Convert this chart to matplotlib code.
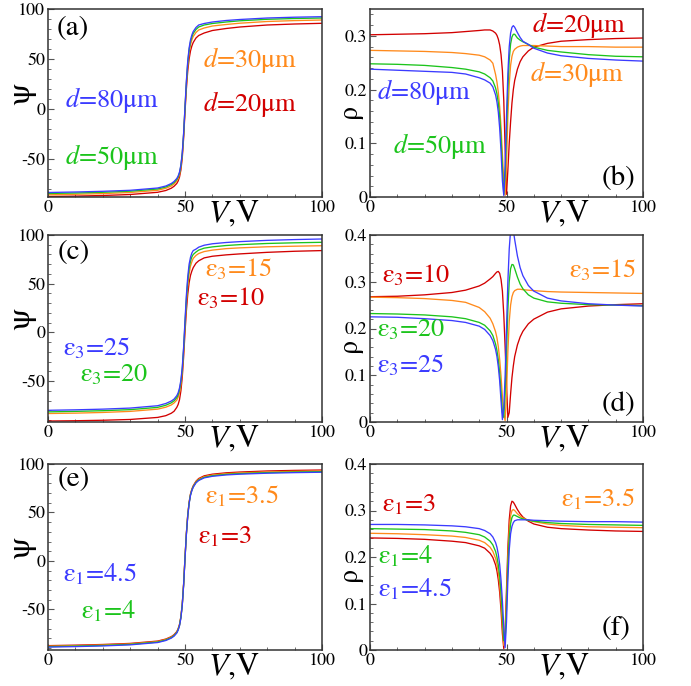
import matplotlib
matplotlib.use("Agg")
import matplotlib.pyplot as plt
from matplotlib.ticker import MultipleLocator

plt.rcParams['font.family'] = ['STIXGeneral', 'DejaVu Serif']
plt.rcParams['mathtext.fontset'] = 'stix'
plt.rcParams['axes.unicode_minus'] = False

BLUE = '#3b3bff'
GREEN = '#1cc41c'
ORANGE = '#ff8a1c'
RED = '#d20000'

# ---------------- data ----------------
V_psi = [0, 10, 20, 30, 40, 43, 45, 46, 47, 47.5, 48, 48.5, 49, 49.5, 50, 50.5,
         51, 51.5, 52, 52.5, 53, 54, 55, 57, 60, 65, 70, 80, 90, 100]
V_rho = [0, 10, 20, 30, 35, 40, 42, 44, 45, 46, 46.5, 47, 47.5, 48, 48.5, 49,
         49.5, 50, 50.5, 51, 51.5, 52, 52.5, 53, 54, 55, 56, 58, 60, 65, 70, 80, 90, 100]

# (a) psi vs V for several d
psi_a_d80 = [-83.5, -83.0, -82.3, -81.3, -79.0, -77.0, -74.5, -72.5, -69.5, -67, -63, -56, -44, -24, 2, 28,
             48, 61, 69, 74, 77.5, 81.5, 84, 85.5, 87, 88.5, 89.5, 91, 91.8, 92.3]
psi_a_d50 = [-84.5, -84.0, -83.3, -82.2, -80.0, -78.0, -75.5, -73.5, -70.5, -68, -64, -57, -45, -25, 1, 26,
             46, 59, 67, 72, 75.5, 79.5, 82, 84, 85.5, 87, 88.2, 89.7, 90.5, 91]
psi_a_d30 = [-85.8, -85.3, -84.6, -83.5, -81.3, -79.3, -77, -75, -72, -69.5, -65.5, -58.5, -46, -26, 0, 24,
             43, 56, 64, 69, 72.5, 76.5, 79, 81, 83, 84.5, 85.8, 87.5, 88.4, 89]
psi_a_d20 = [-87.5, -87.1, -86.5, -85.5, -83.3, -81.5, -79.2, -77.3, -74.5, -72, -68, -61, -49, -29, -3, 20,
             38, 50, 58, 63, 66.5, 71, 73.5, 76, 78.5, 80.5, 82, 84, 85, 85.7]

# (b) rho vs V for several d
rho_b_d80 = [0.238, 0.236, 0.234, 0.232, 0.229, 0.222, 0.218, 0.212, 0.205, 0.19, 0.177, 0.158, 0.128, 0.085,
             0.03, 0.003, 0.06, 0.15, 0.23, 0.28, 0.305, 0.316, 0.319, 0.316, 0.306, 0.297, 0.29, 0.284,
             0.277, 0.268, 0.263, 0.258, 0.255, 0.253]
rho_b_d50 = [0.248, 0.247, 0.245, 0.241, 0.238, 0.233, 0.229, 0.222, 0.216, 0.203, 0.192, 0.175, 0.15, 0.11,
             0.055, 0.005, 0.04, 0.12, 0.2, 0.255, 0.285, 0.298, 0.303, 0.303, 0.296, 0.292, 0.289, 0.284,
             0.279, 0.273, 0.27, 0.265, 0.262, 0.261]
rho_b_d30 = [0.273, 0.272, 0.271, 0.269, 0.267, 0.264, 0.261, 0.255, 0.249, 0.228, 0.214, 0.195, 0.168, 0.13,
             0.08, 0.03, 0.003, 0.06, 0.15, 0.21, 0.245, 0.262, 0.271, 0.275, 0.279, 0.281, 0.282, 0.282,
             0.282, 0.281, 0.28, 0.28, 0.279, 0.279]
rho_b_d20 = [0.302, 0.303, 0.304, 0.306, 0.308, 0.31, 0.311, 0.311, 0.309, 0.305, 0.301, 0.294, 0.283, 0.265,
             0.235, 0.18, 0.09, 0.005, 0.05, 0.1, 0.14, 0.175, 0.2, 0.217, 0.238, 0.252, 0.261, 0.272,
             0.279, 0.286, 0.29, 0.293, 0.295, 0.296]

# (c) psi vs V for several eps3
psi_c_e25 = [-80, -79.5, -78.8, -77.7, -75.3, -73, -70.5, -68.5, -65, -62, -57, -49, -36, -15, 12, 38,
             57, 70, 77, 81.5, 84, 85.5, 87.5, 89.5, 91, 92.3, 93.2, 94.5, 95.3, 95.9]
psi_c_e20 = [-81.6, -81.1, -80.4, -79.3, -77, -74.8, -72.3, -70.3, -67, -64, -59, -51, -38, -17, 9, 34,
             53, 65.5, 73, 77.5, 80, 82.5, 84.5, 86.5, 87.8, 89.2, 90.1, 91.3, 92, 92.5]
psi_c_e15 = [-83.3, -82.9, -82.2, -81.1, -78.8, -76.8, -74.5, -72.5, -69.5, -66.5, -62, -54, -41, -20, 6, 30,
             48, 60, 68, 72.5, 76, 79, 81, 83, 84.5, 86, 86.8, 87.9, 88.5, 89]
psi_c_e10 = [-91, -90.7, -90.2, -89.4, -87.3, -85.5, -83, -81, -77, -74, -69, -60, -46, -25, 0, 22,
             39, 51, 58.5, 63, 66.5, 71, 73.5, 76.5, 78.2, 79.6, 80.6, 82.2, 83.3, 84]

# (d) rho vs V for several eps3
rho_d_e10 = [0.268, 0.269, 0.272, 0.277, 0.282, 0.291, 0.297, 0.306, 0.311, 0.318, 0.321, 0.322, 0.318, 0.305,
             0.28, 0.23, 0.16, 0.08, 0.01, 0.02, 0.06, 0.095, 0.12, 0.14, 0.165, 0.182, 0.194, 0.21,
             0.22, 0.235, 0.242, 0.248, 0.251, 0.253]
rho_d_e15 = [0.267, 0.266, 0.264, 0.26, 0.256, 0.245, 0.236, 0.222, 0.21, 0.193, 0.18, 0.161, 0.134, 0.098,
             0.055, 0.015, 0.003, 0.06, 0.15, 0.215, 0.25, 0.268, 0.277, 0.281, 0.284, 0.284, 0.283, 0.282,
             0.281, 0.279, 0.278, 0.277, 0.276, 0.275]
rho_d_e20 = [0.232, 0.231, 0.229, 0.225, 0.221, 0.213, 0.207, 0.195, 0.185, 0.167, 0.153, 0.133, 0.105, 0.065,
             0.02, 0.01, 0.06, 0.15, 0.24, 0.3, 0.328, 0.337, 0.336, 0.328, 0.31, 0.295, 0.285, 0.272,
             0.265, 0.257, 0.254, 0.251, 0.25, 0.249]
rho_d_e25 = [0.225, 0.224, 0.221, 0.217, 0.213, 0.205, 0.198, 0.185, 0.174, 0.155, 0.14, 0.118, 0.088, 0.045,
             0.005, 0.03, 0.1, 0.2, 0.3, 0.37, 0.41, 0.42, 0.41, 0.39, 0.355, 0.33, 0.313, 0.292,
             0.28, 0.265, 0.259, 0.253, 0.25, 0.248]

# (e) psi vs V for several eps1
psi_e_e45 = [-89, -88.5, -87.8, -86.7, -84.3, -82.2, -79.7, -77.7, -74.5, -71.5, -67, -59, -46, -25, 2, 27,
             46, 59, 67.5, 72.5, 76, 80.5, 83, 85.7, 87.3, 88.7, 89.5, 90.5, 91.1, 91.5]
psi_e_e4 = [-88.5, -88.0, -87.3, -86.2, -83.8, -81.7, -79.2, -77.2, -74, -71, -66.5, -58.5, -45.5, -24.5, 2.5, 27.5,
            46.5, 59.5, 68, 73, 76.5, 81, 83.5, 86.2, 87.9, 89.3, 90.1, 91.1, 91.7, 92.1]
psi_e_e35 = [-88, -87.5, -86.8, -85.7, -83.3, -81.2, -78.7, -76.7, -73.5, -70.5, -66, -58, -45, -24, 3, 28,
             47, 60, 68.5, 73.5, 77, 81.6, 84.2, 86.9, 88.6, 90, 90.8, 91.8, 92.4, 92.8]
psi_e_e3 = [-87.5, -87.0, -86.3, -85.2, -82.8, -80.7, -78.2, -76.2, -73, -70, -65.5, -57.5, -44.5, -23.5, 3.5, 28.5,
            47.5, 60.5, 69, 74, 77.5, 82.2, 85, 87.8, 89.5, 90.9, 91.7, 92.8, 93.4, 93.8]

# (f) rho vs V for several eps1
rho_f_e3 = [0.241, 0.24, 0.238, 0.234, 0.231, 0.224, 0.219, 0.208, 0.199, 0.183, 0.17, 0.151, 0.124, 0.085,
            0.035, 0.003, 0.04, 0.13, 0.22, 0.28, 0.31, 0.32, 0.318, 0.313, 0.302, 0.293, 0.286, 0.277,
            0.271, 0.264, 0.261, 0.258, 0.256, 0.255]
rho_f_e35 = [0.251, 0.25, 0.248, 0.245, 0.242, 0.236, 0.231, 0.221, 0.212, 0.197, 0.185, 0.167, 0.141, 0.104,
             0.055, 0.01, 0.03, 0.11, 0.2, 0.26, 0.289, 0.3, 0.302, 0.3, 0.293, 0.288, 0.284, 0.279,
             0.276, 0.271, 0.268, 0.265, 0.264, 0.263]
rho_f_e4 = [0.261, 0.26, 0.259, 0.256, 0.253, 0.248, 0.243, 0.234, 0.226, 0.212, 0.2, 0.183, 0.159, 0.122,
            0.075, 0.02, 0.02, 0.09, 0.18, 0.24, 0.272, 0.285, 0.29, 0.29, 0.287, 0.284, 0.282, 0.279,
            0.277, 0.274, 0.272, 0.27, 0.269, 0.268]
rho_f_e45 = [0.27, 0.27, 0.269, 0.267, 0.265, 0.261, 0.257, 0.25, 0.243, 0.231, 0.221, 0.206, 0.184, 0.15,
             0.105, 0.05, 0.005, 0.06, 0.15, 0.215, 0.25, 0.266, 0.274, 0.278, 0.28, 0.28, 0.28, 0.28,
             0.279, 0.278, 0.277, 0.276, 0.276, 0.275]

# ---------------- figure ----------------
W, H = 691, 686
fig = plt.figure(figsize=(W / 100, H / 100), dpi=100)

cols = [(48, 322), (370, 643)]
rows = [(9, 197), (235, 422), (464, 650)]


def make_ax(r, c):
    (x0, x1), (y0, y1) = cols[c], rows[r]
    return fig.add_axes([x0 / W, 1 - y1 / H, (x1 - x0) / W, (y1 - y0) / H])


LW = 0.95
TICKFS = 13
LBLFS = 19
PANELFS = 21


def style(ax, kind, rho_y=0.42):
    ax.set_xlim(0, 100)
    ax.xaxis.set_major_locator(MultipleLocator(50))
    ax.xaxis.set_minor_locator(MultipleLocator(10))
    if kind == 'psi':
        ax.yaxis.set_major_locator(MultipleLocator(50))
        ax.yaxis.set_minor_locator(MultipleLocator(10))
    else:
        ax.yaxis.set_major_locator(MultipleLocator(0.1))
        ax.yaxis.set_minor_locator(MultipleLocator(0.02))
        ax.yaxis.set_major_formatter(plt.FuncFormatter(lambda v, p: '0' if abs(v) < 1e-9 else f'{v:.1f}'))
    ax.tick_params(which='both', direction='in', top=False, right=False, labelsize=TICKFS,
                   color='#555555', pad=2)
    ax.tick_params(which='major', length=4, width=0.8)
    ax.tick_params(which='minor', length=2.5, width=0.6)
    for s in ax.spines.values():
        s.set_linewidth(1.1)
        s.set_color('#333333')
    ax.text(0.68 if kind == 'psi' else 0.71, -0.015, '$V$,V', transform=ax.transAxes,
            ha='center', va='top', fontsize=23)
    if kind == 'psi':
        ax.text(-0.098, 0.55, 'ψ', transform=ax.transAxes, rotation=90,
                ha='center', va='center', fontsize=23)
    else:
        ax.text(-0.075, rho_y, 'ρ', transform=ax.transAxes, rotation=90,
                ha='center', va='center', fontsize=20)


def lab(ax, x, y, s, color, fs=LBLFS):
    ax.text(x, y, s, color=color, fontsize=fs, ha='left', va='baseline')


# (a)
ax = make_ax(0, 0)
ax.plot(V_psi, psi_a_d20, color=RED, lw=LW)
ax.plot(V_psi, psi_a_d30, color=ORANGE, lw=LW)
ax.plot(V_psi, psi_a_d50, color=GREEN, lw=LW)
ax.plot(V_psi, psi_a_d80, color=BLUE, lw=LW)
ax.set_ylim(-88, 100)
style(ax, 'psi')
lab(ax, 6.2, 2.3, '$d$=80μm', BLUE)
lab(ax, 6.2, -55, '$d$=50μm', GREEN)
lab(ax, 56.6, 41.6, '$d$=30μm', ORANGE)
lab(ax, 56.6, -1.7, '$d$=20μm', RED)
lab(ax, 3.3, 74, '(a)', 'black', PANELFS)

# (b)
ax = make_ax(0, 1)
ax.plot(V_rho, rho_b_d20, color=RED, lw=LW)
ax.plot(V_rho, rho_b_d30, color=ORANGE, lw=LW)
ax.plot(V_rho, rho_b_d50, color=GREEN, lw=LW)
ax.plot(V_rho, rho_b_d80, color=BLUE, lw=LW)
ax.set_ylim(0, 0.35)
style(ax, 'rho', 0.45)
lab(ax, 59.2, 0.3066, '$d$=20μm', RED)
lab(ax, 58.6, 0.216, '$d$=30μm', ORANGE)
lab(ax, 2.7, 0.183, '$d$=80μm', BLUE)
lab(ax, 8.5, 0.081, '$d$=50μm', GREEN)
lab(ax, 84.9, 0.022, '(b)', 'black', PANELFS)

# (c)
ax = make_ax(1, 0)
ax.plot(V_psi, psi_c_e10, color=RED, lw=LW)
ax.plot(V_psi, psi_c_e15, color=ORANGE, lw=LW)
ax.plot(V_psi, psi_c_e20, color=GREEN, lw=LW)
ax.plot(V_psi, psi_c_e25, color=BLUE, lw=LW)
ax.set_ylim(-92, 100)
style(ax, 'psi')
lab(ax, 5.6, -24, 'ε$_3$=25', BLUE)
lab(ax, 11.7, -50.8, 'ε$_3$=20', GREEN)
lab(ax, 57.3, 57, 'ε$_3$=15', ORANGE)
lab(ax, 54.3, 28, 'ε$_3$=10', RED)
lab(ax, 3.4, 75, '(c)', 'black', PANELFS)

# (d)
ax = make_ax(1, 1)
ax.plot(V_rho, rho_d_e10, color=RED, lw=LW)
ax.plot(V_rho, rho_d_e15, color=ORANGE, lw=LW)
ax.plot(V_rho, rho_d_e20, color=GREEN, lw=LW)
ax.plot(V_rho, rho_d_e25, color=BLUE, lw=LW)
ax.set_ylim(0, 0.4)
style(ax, 'rho', 0.405)
lab(ax, 4.3, 0.2985, 'ε$_3$=10', RED)
lab(ax, 72.9, 0.309, 'ε$_3$=15', ORANGE)
lab(ax, 2.7, 0.184, 'ε$_3$=20', GREEN)
lab(ax, 2.7, 0.1065, 'ε$_3$=25', BLUE)
lab(ax, 84.9, 0.023, '(d)', 'black', PANELFS)

# (e)
ax = make_ax(2, 0)
ax.plot(V_psi, psi_e_e3, color=RED, lw=LW)
ax.plot(V_psi, psi_e_e35, color=ORANGE, lw=LW)
ax.plot(V_psi, psi_e_e4, color=GREEN, lw=LW)
ax.plot(V_psi, psi_e_e45, color=BLUE, lw=LW)
ax.set_ylim(-92, 100)
style(ax, 'psi')
lab(ax, 57.3, 59.7, 'ε$_1$=3.5', ORANGE)
lab(ax, 54.6, 18.3, 'ε$_1$=3', RED)
lab(ax, 5.6, -21.4, 'ε$_1$=4.5', BLUE)
lab(ax, 12, -59.3, 'ε$_1$=4', GREEN)
lab(ax, 3.4, 77, '(e)', 'black', PANELFS)

# (f)
ax = make_ax(2, 1)
ax.plot(V_rho, rho_f_e3, color=RED, lw=LW)
ax.plot(V_rho, rho_f_e35, color=ORANGE, lw=LW)
ax.plot(V_rho, rho_f_e4, color=GREEN, lw=LW)
ax.plot(V_rho, rho_f_e45, color=BLUE, lw=LW)
ax.set_ylim(0, 0.4)
style(ax, 'rho', 0.405)
lab(ax, 4.5, 0.297, 'ε$_1$=3', RED)
lab(ax, 70, 0.308, 'ε$_1$=3.5', ORANGE)
lab(ax, 3, 0.186, 'ε$_1$=4', GREEN)
lab(ax, 3, 0.115, 'ε$_1$=4.5', BLUE)
lab(ax, 84.9, 0.032, '(f)', 'black', PANELFS)

fig.savefig('out.png', dpi=100)
